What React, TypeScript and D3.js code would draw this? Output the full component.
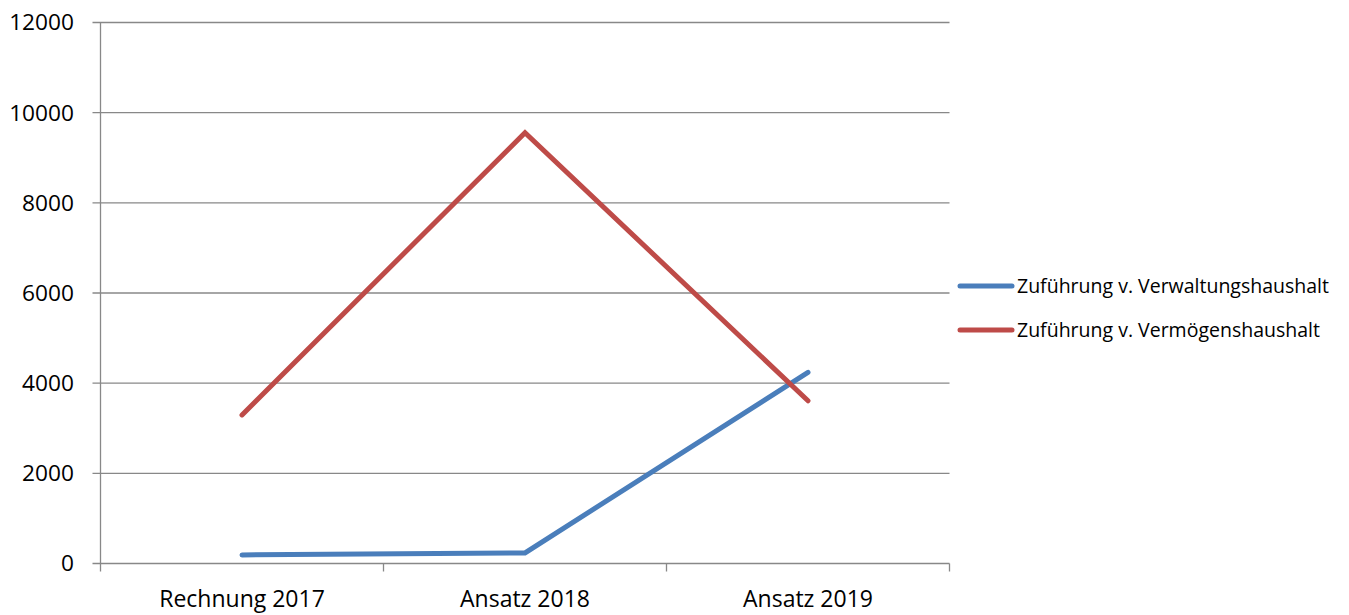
import React from "react";
import * as d3 from "d3";

const categories = ["Rechnung 2017", "Ansatz 2018", "Ansatz 2019"];
const seriesNames = ["Zuführung v. Verwaltungshaushalt", "Zuführung v. Vermögenshaushalt"];
const verwaltung = [190, 235, 4240];
const vermoegen = [3295, 9555, 3610];
const yTicks = [0, 2000, 4000, 6000, 8000, 10000, 12000];
const colors = ["#4A7EBB", "#BE4B48"];

export default function App() {
  const W = 1349, H = 615;
  const left = 100.5, right = 949.5, top = 22.5, bottom = 563.5;
  const x = d3.scaleBand().domain(categories).range([left, right]);
  const y = d3.scaleLinear().domain([0, 12000]).range([bottom, top]);
  const line = d3.line<number>().x((_, i) => (x(categories[i]) as number) + x.bandwidth() / 2).y((d) => y(d));
  const series = [verwaltung, vermoegen];
  const font = "'Open Sans', sans-serif";
  const bandEdges = categories.map((c) => x(c) as number).concat([right]);
  return (
    <svg width={W} height={H} style={{ position: "absolute", left: 0, top: 0 }}>
      <rect width={W} height={H} fill="#fff" />
      {yTicks.map((t) => (
        <g key={t}>
          <line x1={left - 8} x2={right} y1={y(t)} y2={y(t)} stroke="#888" strokeWidth={1.3} />
          <text x={74} y={y(t)} dy="0.35em" textAnchor="end" fontFamily={font} fontSize={22.7} fill="#000">{t}</text>
        </g>
      ))}
      <line x1={left} x2={left} y1={top} y2={bottom + 8} stroke="#888" strokeWidth={1.3} />
      {bandEdges.slice(1).map((e, i) => (
        <line key={i} x1={e} x2={e} y1={bottom} y2={bottom + 8} stroke="#888" strokeWidth={1.3} />
      ))}
      {categories.map((c) => (
        <text key={c} x={(x(c) as number) + x.bandwidth() / 2} y={599} dy="0.35em" textAnchor="middle" fontFamily={font} fontSize={23} fill="#000">{c}</text>
      ))}
      {series.map((s, i) => (
        <path key={i} d={line(s) || ""} fill="none" stroke={colors[i]} strokeWidth={5} strokeLinecap="round" strokeLinejoin="miter" />
      ))}
      {seriesNames.map((n, i) => (
        <g key={n} transform={`translate(0, ${286 + i * 44})`}>
          <line x1={960} x2={1012} y1={0} y2={0} stroke={colors[i]} strokeWidth={5} strokeLinecap="round" />
          <text x={1017} y={0} dy="0.35em" fontFamily={font} fontSize={19.5} fill="#000">{n}</text>
        </g>
      ))}
    </svg>
  );
}
